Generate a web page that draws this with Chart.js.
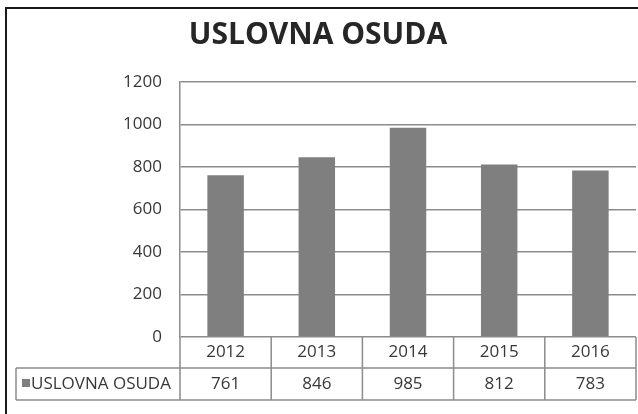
<!DOCTYPE html>
<html>
<head>
<meta charset="utf-8">
<script src="https://cdn.jsdelivr.net/npm/chart.js@4/dist/chart.umd.min.js"></script>
<style>
  html, body { margin: 0; padding: 0; background: #fff; }
  #wrap { width: 638px; height: 414px; }
</style>
</head>
<body>
<div id="wrap"><canvas id="chart" width="638" height="414"></canvas></div>
<script>
const years = ['2012', '2013', '2014', '2015', '2016']
const uslovnaOsuda = [761, 846, 985, 812, 783]
const seriesName = 'USLOVNA OSUDA'
const yTicks = [0, 200, 400, 600, 800, 1000, 1200]

const textColor = '#383838'
const lineColor = '#8c8c8c'
const barColor = '#7f7f7f'
const fontFamily = "'Open Sans', 'DejaVu Sans', sans-serif"

// draws the data table under the plot, like Excel does
const dataTable = {
    id: 'dataTable',
    afterDraw(chart) {
        const ctx = chart.ctx
        const x = chart.scales.x
        const area = chart.chartArea
        const rowTop = area.bottom
        const rowMid = 368
        const rowBot = 400
        const tableLeft = 16
        const half = (x.getPixelForValue(1) - x.getPixelForValue(0)) / 2
        const right = x.getPixelForValue(years.length - 1) + half

        ctx.save()
        ctx.strokeStyle = lineColor
        ctx.lineWidth = 1.5
        ctx.beginPath()
        ctx.moveTo(tableLeft, rowMid); ctx.lineTo(right, rowMid)
        ctx.moveTo(tableLeft, rowBot); ctx.lineTo(right, rowBot)
        ctx.moveTo(tableLeft, rowMid); ctx.lineTo(tableLeft, rowBot)
        ctx.moveTo(area.left, rowTop); ctx.lineTo(area.left, rowBot)
        years.forEach((y, i) => {
            const bx = x.getPixelForValue(i) + half
            ctx.moveTo(bx, rowTop); ctx.lineTo(bx, rowBot)
        })
        ctx.stroke()

        const valY = (rowMid + rowBot) / 2
        ctx.fillStyle = barColor
        ctx.fillRect(22, valY - 5, 8, 8)
        ctx.fillStyle = textColor
        ctx.font = '17px ' + fontFamily
        ctx.textBaseline = 'middle'
        ctx.textAlign = 'left'
        ctx.fillText(seriesName, 31, valY)
        ctx.textAlign = 'center'
        uslovnaOsuda.forEach((v, i) => {
            ctx.fillText(String(v), x.getPixelForValue(i), valY)
        })

        // outer frame
        ctx.strokeStyle = '#1a1a1a'
        ctx.lineWidth = 2
        ctx.beginPath()
        ctx.moveTo(6, 414); ctx.lineTo(6, 8); ctx.lineTo(638, 8)
        ctx.stroke()
        ctx.restore()
    }
}

new Chart(document.getElementById('chart'), {
    type: 'bar',
    data: {
        labels: years,
        datasets: [{
            label: seriesName,
            data: uslovnaOsuda,
            backgroundColor: barColor,
            borderWidth: 0,
            barPercentage: 0.4,
            categoryPercentage: 1.0
        }]
    },
    options: {
        responsive: false,
        animation: false,
        layout: { padding: { left: 0, right: 2, top: 0, bottom: 0 } },
        plugins: {
            legend: { display: false },
            tooltip: { enabled: false },
            title: {
                display: true,
                text: 'USLOVNA OSUDA',
                color: '#262626',
                font: { family: fontFamily, size: 30, weight: 'bold', lineHeight: 1.2 },
                padding: { top: 17, bottom: 29 }
            }
        },
        scales: {
            x: {
                grid: { display: false, drawTicks: false },
                border: { display: false },
                ticks: {
                    color: textColor,
                    font: { family: fontFamily, size: 17 },
                    padding: 5,
                    maxRotation: 0
                },
                afterFit: (s) => { s.height = 77 }
            },
            y: {
                min: 0,
                max: 1200,
                afterBuildTicks: (s) => { s.ticks = yTicks.map(v => ({ value: v })) },
                grid: { color: lineColor, lineWidth: 1.5, drawTicks: false },
                border: { display: true, color: lineColor, width: 1.5 },
                ticks: {
                    color: textColor,
                    font: { family: fontFamily, size: 17 },
                    padding: 18,
                    callback: (v) => String(v)
                },
                afterFit: (s) => { s.width = 180 }
            }
        }
    },
    plugins: [dataTable]
})
</script>
</body>
</html>
